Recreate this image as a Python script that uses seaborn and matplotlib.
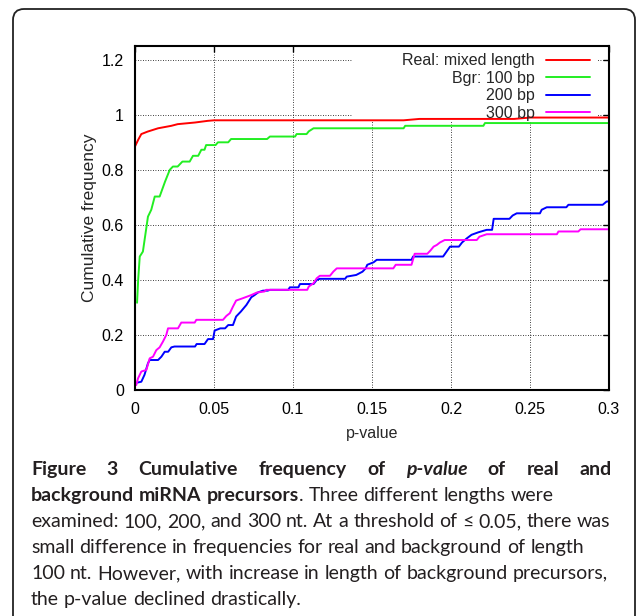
import matplotlib
matplotlib.use("Agg")
import matplotlib.pyplot as plt
import pandas as pd
import seaborn as sns
from matplotlib.lines import Line2D
from matplotlib.patches import FancyBboxPatch, Rectangle
from matplotlib.transforms import IdentityTransform

# ===== Data =====
real_x = [0.0, 0.002, 0.004, 0.008, 0.0146, 0.023, 0.027, 0.038, 0.046, 0.05,
          0.17, 0.18, 0.24, 0.25, 0.3]
real_y = [0.885, 0.909, 0.93, 0.939, 0.951, 0.96, 0.966, 0.972, 0.978, 0.98,
          0.98, 0.985, 0.985, 0.99, 0.99]

bgr100_x = [0.0013, 0.002, 0.003, 0.005, 0.0082, 0.0103, 0.0125, 0.0156, 0.019, 0.022,
            0.024, 0.027, 0.030, 0.0346, 0.0367, 0.040, 0.042, 0.044, 0.045, 0.051,
            0.0525, 0.059, 0.0608, 0.0836, 0.0854, 0.1013, 0.1023, 0.1086, 0.11, 0.113,
            0.17, 0.171, 0.2205, 0.2215, 0.3]
bgr100_y = [0.317, 0.40, 0.485, 0.503, 0.63, 0.655, 0.703, 0.703, 0.757, 0.80,
            0.812, 0.812, 0.83, 0.83, 0.851, 0.851, 0.873, 0.873, 0.89, 0.89,
            0.90, 0.90, 0.912, 0.912, 0.921, 0.921, 0.93, 0.93, 0.94, 0.951,
            0.951, 0.96, 0.96, 0.97, 0.97]

bgr200_x = [0.0015, 0.004, 0.006, 0.0082, 0.0093, 0.0146, 0.0167, 0.0188, 0.021, 0.023,
            0.025, 0.038, 0.039, 0.044, 0.0462, 0.0494, 0.0504, 0.054, 0.057, 0.059,
            0.062, 0.064, 0.067, 0.0705, 0.0736, 0.0757, 0.078, 0.081, 0.084, 0.0854,
            0.097, 0.098, 0.1034, 0.1044, 0.113, 0.115, 0.117, 0.133, 0.134, 0.14,
            0.144, 0.146, 0.147, 0.151, 0.153, 0.175, 0.176, 0.195, 0.1994, 0.205,
            0.207, 0.21, 0.213, 0.2173, 0.2226, 0.226, 0.227, 0.237, 0.239, 0.2416,
            0.2563, 0.2574, 0.2606, 0.273, 0.2743, 0.296, 0.2985, 0.3]
bgr200_y = [0.027, 0.03, 0.055, 0.097, 0.109, 0.109, 0.121, 0.139, 0.139, 0.155,
            0.158, 0.158, 0.167, 0.167, 0.185, 0.185, 0.216, 0.224, 0.224, 0.236,
            0.236, 0.267, 0.285, 0.309, 0.337, 0.345, 0.355, 0.361, 0.361, 0.364,
            0.364, 0.373, 0.373, 0.385, 0.385, 0.40, 0.404, 0.404, 0.412, 0.418,
            0.43, 0.442, 0.455, 0.464, 0.473, 0.473, 0.485, 0.485, 0.521, 0.521,
            0.536, 0.551, 0.564, 0.573, 0.582, 0.582, 0.622, 0.622, 0.634, 0.642,
            0.642, 0.655, 0.664, 0.664, 0.673, 0.673, 0.685, 0.685]

bgr300_x = [0.0008, 0.0019, 0.004, 0.0072, 0.0093, 0.0114, 0.0135, 0.0156, 0.0177, 0.0198,
            0.0209, 0.0272, 0.0293, 0.0378, 0.0388, 0.0557, 0.0578, 0.06, 0.062, 0.064,
            0.068, 0.0736, 0.077, 0.082, 0.083, 0.109, 0.11, 0.113, 0.115, 0.117,
            0.1234, 0.1255, 0.1277, 0.1635, 0.165, 0.175, 0.177, 0.185, 0.187, 0.189,
            0.191, 0.193, 0.196, 0.2163, 0.218, 0.2226, 0.267, 0.268, 0.2806, 0.282,
            0.3]
bgr300_y = [0.018, 0.042, 0.067, 0.073, 0.115, 0.121, 0.145, 0.155, 0.176, 0.20,
            0.224, 0.224, 0.245, 0.245, 0.255, 0.255, 0.269, 0.279, 0.303, 0.325,
            0.333, 0.345, 0.354, 0.358, 0.364, 0.364, 0.376, 0.388, 0.406, 0.415,
            0.415, 0.43, 0.442, 0.442, 0.455, 0.455, 0.495, 0.495, 0.507, 0.521,
            0.527, 0.536, 0.545, 0.545, 0.557, 0.566, 0.566, 0.576, 0.576, 0.584,
            0.584]

series_names = ["Real: mixed length", "Bgr: 100 bp", "200 bp", "300 bp"]
series_colors = ["#ff0000", "#22ee22", "#0000ff", "#ff00ff"]

x_ticks = [0, 0.05, 0.1, 0.15, 0.2, 0.25, 0.3]
x_tick_labels = ["0", "0.05", "0.1", "0.15", "0.2", "0.25", "0.3"]
y_ticks = [0, 0.2, 0.4, 0.6, 0.8, 1.0, 1.2]
y_tick_labels = ["0", "0.2", "0.4", "0.6", "0.8", "1", "1.2"]

# caption: list of (text, weight, style) parts per line
caption_lines = [
    [("Figure 3 Cumulative frequency of", "bold", "normal"),
     (" p-value", "bold", "italic"),
     (" of real and", "bold", "normal")],
    [("background miRNA precursors", "bold", "normal"),
     (". Three different lengths were", "normal", "normal")],
    [("examined: 100, 200, and 300 nt. At a threshold of \u2264 0.05, there was", "normal", "normal")],
    [("small difference in frequencies for real and background of length", "normal", "normal")],
    [("100 nt. However, with increase in length of background precursors,", "normal", "normal")],
    [("the p-value declined drastically.", "normal", "normal")],
]
caption_justify = [True, False, False, False, False, False]

# ===== Style =====
W, H = 641, 616
plot_font = ["Liberation Sans", "DejaVu Sans"]
cap_font = ["Lato", "DejaVu Sans"]
cap_size = 14.0
cap_color = "#231f20"

sns.set_style("white")
plt.rcParams["font.family"] = plot_font

fig = plt.figure(figsize=(W / 100, H / 100), dpi=100)
fig.patch.set_facecolor("white")
ax = fig.add_axes([135 / W, 1 - 390 / H, 474 / W, 344 / H])

# ===== Build long table and draw =====
frames = []
for name, xs, ys in zip(series_names,
                        [real_x, bgr100_x, bgr200_x, bgr300_x],
                        [real_y, bgr100_y, bgr200_y, bgr300_y]):
    frames.append(pd.DataFrame({"p": xs, "freq": ys, "series": name}))
df = pd.concat(frames, ignore_index=True)

sns.lineplot(data=df, x="p", y="freq", hue="series", hue_order=series_names,
             palette=series_colors, sort=False, estimator=None, lw=1.4,
             legend=False, ax=ax)

ax.set_xlim(0, 0.3)
ax.set_ylim(0, 1.25)
ax.set_xticks(x_ticks, x_tick_labels)
ax.set_yticks(y_ticks, y_tick_labels)
ax.tick_params(direction="in", top=True, right=True, length=4, width=1,
               labelsize=11.5, colors="black", pad=8)
ax.tick_params(axis="x", pad=9)
for sp in ax.spines.values():
    sp.set_visible(True)
    sp.set_color("black")
    sp.set_linewidth(1.5)

ax.set_axisbelow(True)
ax.grid(True, color="black", linestyle=(0, (1, 2)), lw=0.6)

ax.set_xlabel("p-value", fontsize=11.5, labelpad=6)
ax.set_ylabel("Cumulative frequency", fontsize=12.5, labelpad=3)

# key area covers the grid like gnuplot does
ax.add_patch(Rectangle((0.46, 0.779), 0.515, 0.221, transform=ax.transAxes,
                       facecolor="white", edgecolor="none", zorder=1))
handles = [Line2D([], [], color=c, lw=1.4) for c in series_colors]
ax.legend(handles, series_names, loc="upper right", bbox_to_anchor=(0.975, 1.0),
          frameon=False, markerfirst=False, handlelength=2.75, handletextpad=0.7,
          labelspacing=0.16, fontsize=11.5, borderaxespad=0, borderpad=0.45)

# rounded frame around the figure panel
fig.add_artist(FancyBboxPatch((13, -30), 622, 637,
                              boxstyle="round,pad=0,rounding_size=11",
                              transform=IdentityTransform(), fill=False,
                              edgecolor="#222222", lw=1.3))

# ===== Caption (word by word so the first line can be justified) =====
fig.canvas.draw()
renderer = fig.canvas.get_renderer()


def text_width(s, weight="normal", style="normal"):
    t = fig.text(0, 0, s, fontsize=cap_size, family=cap_font, weight=weight, style=style)
    w = t.get_window_extent(renderer).width
    t.remove()
    return w


space_w = text_width("n n") - text_width("nn")
x_left, x_right = 31, 612
y_base = 475
line_step = 26

for i, parts in enumerate(caption_lines):
    y = 1 - (y_base + i * line_step) / H
    tokens = []
    for text, weight, style in parts:
        words = text.split()
        for j, w in enumerate(words):
            sp_before = (j > 0) or text.startswith(" ")
            tokens.append((w, weight, style, sp_before and len(tokens) > 0))
    objs = []
    for w, weight, style, sp in tokens:
        t = fig.text(0, y, w, fontsize=cap_size, family=cap_font, weight=weight,
                     style=style, color=cap_color, va="baseline", ha="left")
        objs.append((t, t.get_window_extent(renderer).width, sp))
    gap = space_w
    if caption_justify[i]:
        n_sp = sum(1 for o in objs if o[2])
        gap = (x_right - x_left - sum(o[1] for o in objs)) / n_sp
    x = x_left
    for t, w, sp in objs:
        if sp:
            x += gap
        t.set_x(x / W)
        x += w

fig.savefig("out.png", dpi=100, facecolor="white")
